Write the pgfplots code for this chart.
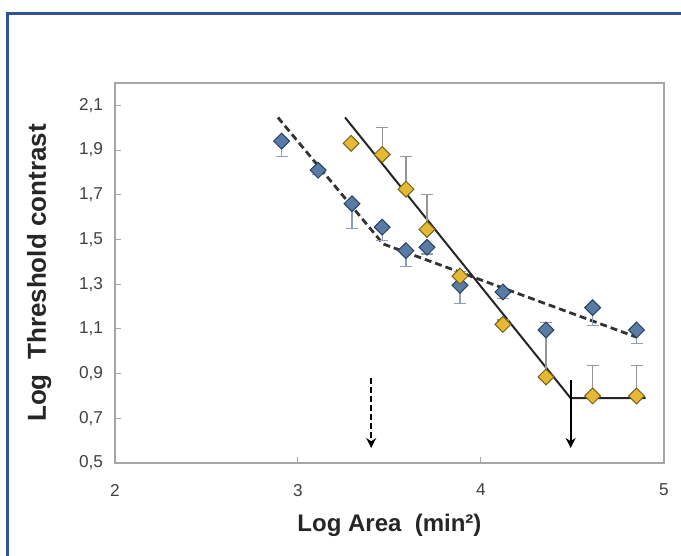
\documentclass[border=0pt]{standalone}
\usepackage{pgfplots}
\pgfplotsset{compat=1.18}
\usepackage{fontspec}
\setmainfont{Liberation Sans}
\usetikzlibrary{arrows.meta}

\definecolor{frameblue}{RGB}{47,85,151}
\definecolor{ptblue}{RGB}{88,124,164}
\definecolor{ptblueedge}{RGB}{40,64,96}
\definecolor{ptyellow}{RGB}{228,186,52}
\definecolor{ptyellowedge}{RGB}{120,96,30}
\definecolor{errblue}{RGB}{140,160,190}
\definecolor{errgray}{RGB}{150,150,150}
\definecolor{ticktext}{RGB}{64,64,64}

\begin{document}
\begin{tikzpicture}
% picture is 681x556 px, 1 px = 0.5pt; axis box lower-left at px (115,463)
\useasboundingbox (-57.5pt,-46.5pt) rectangle (283pt,231.5pt);
\draw[frameblue, line width=1.5pt] (-53.5pt,-50pt) -- (-53.5pt,224.5pt) -- (290pt,224.5pt);

\begin{axis}[
    at={(0pt,0pt)}, anchor=south west,
    scale only axis,
    width=274.5pt, height=190pt,
    xmin=2, xmax=5, ymin=0.5, ymax=2.2,
    xtick={2,3,4,5},
    ytick={0.5,0.7,...,2.15},
    tick align=inside,
    tick pos=left,
    major tick length=3pt,
    axis line style={gray!70, line width=0.6pt},
    every tick/.style={gray!70, line width=0.5pt},
    tick label style={font=\fontsize{8.6}{10}\selectfont, text=ticktext},
    xticklabel style={yshift=-7pt},
    /pgf/number format/assume math mode=true,
    /pgf/number format/use comma,
    yticklabel style={xshift=-2.5pt, /pgf/number format/fixed, /pgf/number format/fixed zerofill, /pgf/number format/precision=1},
    xlabel={Log Area\ \ (min²)},
    ylabel={Log\ \ Threshold contrast},
    label style={font=\fontsize{12}{14}\selectfont\bfseries, text=black!85},
    xlabel style={yshift=-2pt},
    ylabel style={font=\fontsize{13}{15}\selectfont\bfseries, yshift=7pt},
    clip=false,
]
% fitted lines
\addplot[black!80, line width=1.4pt, dash pattern=on 3.5pt off 2pt] coordinates {
    (2.89,2.046) (3.465,1.48) (4.85,1.063)};
\addplot[black!85, line width=1pt] coordinates {
    (3.257,2.046) (4.49,0.79) (4.90,0.79)};

% arrows
\addplot[black, line width=1.1pt, dash pattern=on 3pt off 1.5pt, -{Stealth[length=5pt,width=5pt]}] coordinates {
    (3.40,0.88) (3.40,0.567)};
\addplot[black, line width=1.1pt, -{Stealth[length=5pt,width=5pt]}] coordinates {
    (4.49,0.87) (4.49,0.567)};

% blue series, error bars downward
\addplot[only marks, mark=square*, mark size=2.8pt,
    mark options={rotate=45, fill=ptblue, draw=ptblueedge, line width=0.5pt},
    error bars/.cd, y dir=minus, y explicit,
    error bar style={errblue, line width=0.6pt},
    error mark options={rotate=90, mark size=3pt, errblue, line width=0.6pt}]
coordinates {
    (2.91,1.94)   +- (0,0.07)
    (3.11,1.81)   +- (0,0.02)
    (3.295,1.66)  +- (0,0.11)
    (3.46,1.555)  +- (0,0.06)
    (3.59,1.45)   +- (0,0.07)
    (3.705,1.465) +- (0,0.03)
    (3.885,1.295) +- (0,0.08)
    (4.12,1.265)  +- (0,0.03)
    (4.355,1.095) +- (0,0.0)
    (4.61,1.195)  +- (0,0.08)
    (4.85,1.095)  +- (0,0.06)
};

% yellow series, error bars upward
\addplot[only marks, mark=square*, mark size=2.8pt,
    mark options={rotate=45, fill=ptyellow, draw=ptyellowedge, line width=0.5pt},
    error bars/.cd, y dir=plus, y explicit,
    error bar style={errgray, line width=0.6pt},
    error mark options={rotate=90, mark size=3pt, errgray, line width=0.6pt}]
coordinates {
    (3.29,1.93)   +- (0,0.0)
    (3.46,1.88)   +- (0,0.12)
    (3.59,1.725)  +- (0,0.145)
    (3.705,1.545) +- (0,0.155)
    (3.885,1.336) +- (0,0.02)
    (4.12,1.12)   +- (0,0.02)
    (4.355,0.885) +- (0,0.245)
    (4.61,0.80)   +- (0,0.135)
    (4.85,0.80)   +- (0,0.135)
};
\end{axis}
\end{tikzpicture}
\end{document}
